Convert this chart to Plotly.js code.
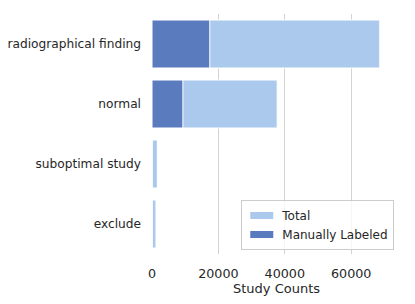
<!DOCTYPE html>
<html><head><meta charset="utf-8">
<script src="https://cdn.plot.ly/plotly-3.0.1.min.js"></script>
<style>html,body{margin:0;padding:0;background:#fff;}#chart{width:415px;height:304px;}</style>
</head><body><div id="chart"></div>
<script>
var categories = ["radiographical finding", "normal", "suboptimal study", "exclude"];
var totalCounts = [68600, 37700, 1600, 1200];
var manualCounts = [17400, 9300, 0, 0];
var xTicks = [0, 20000, 40000, 60000];

var font = "DejaVu Sans, sans-serif";
var traces = [
  {type: "bar", orientation: "h", name: "Total", y: categories, x: totalCounts,
   width: 0.8, marker: {color: "#abc9ec", line: {color: "#ffffff", width: 1}}, hoverinfo: "none"},
  {type: "bar", orientation: "h", name: "Manually Labeled", y: categories, x: manualCounts,
   width: 0.8, marker: {color: "#5a7cbf", line: {color: "#ffffff", width: 1}}, hoverinfo: "none"}
];
var layout = {
  width: 415, height: 304,
  margin: {l: 152, r: 14, t: 14, b: 50},
  barmode: "overlay",
  paper_bgcolor: "#ffffff", plot_bgcolor: "#ffffff",
  font: {family: font, size: 12, color: "#262626"},
  showlegend: true,
  legend: {x: 0.973, y: 0.017, xanchor: "right", yanchor: "bottom",
           bgcolor: "rgba(255,255,255,0.8)", bordercolor: "#cccccc", borderwidth: 1,
           font: {family: font, size: 12, color: "#262626"}, traceorder: "normal"},
  xaxis: {range: [0, 75000], tickvals: xTicks, ticktext: xTicks.map(String),
          showgrid: true, gridcolor: "#d3d3d3", gridwidth: 1.2, zeroline: false, showline: false,
          ticks: "", ticklabelstandoff: 10, tickfont: {family: font, size: 12.7, color: "#262626"},
          title: {text: "Study Counts", font: {family: font, size: 13, color: "#262626"}, standoff: 2}},
  yaxis: {autorange: "reversed", type: "category", showgrid: false, zeroline: false, showline: false,
          ticks: "", ticklabelstandoff: 10, range: [3.5, -0.5],
          tickfont: {family: font, size: 12.2, color: "#262626"}}
};
Plotly.newPlot("chart", traces, layout, {displayModeBar: false, staticPlot: true}).then(function (gd) {
  // widen legend patches to match the wide, flat swatches of the original
  var paths = gd.querySelectorAll(".legend .legendpoints path");
  paths.forEach(function (p) {
    p.setAttribute("d", "M-12,-3.5H11V3.5H-12Z");
    p.style.strokeWidth = "0px";
  });
});
</script></body></html>
